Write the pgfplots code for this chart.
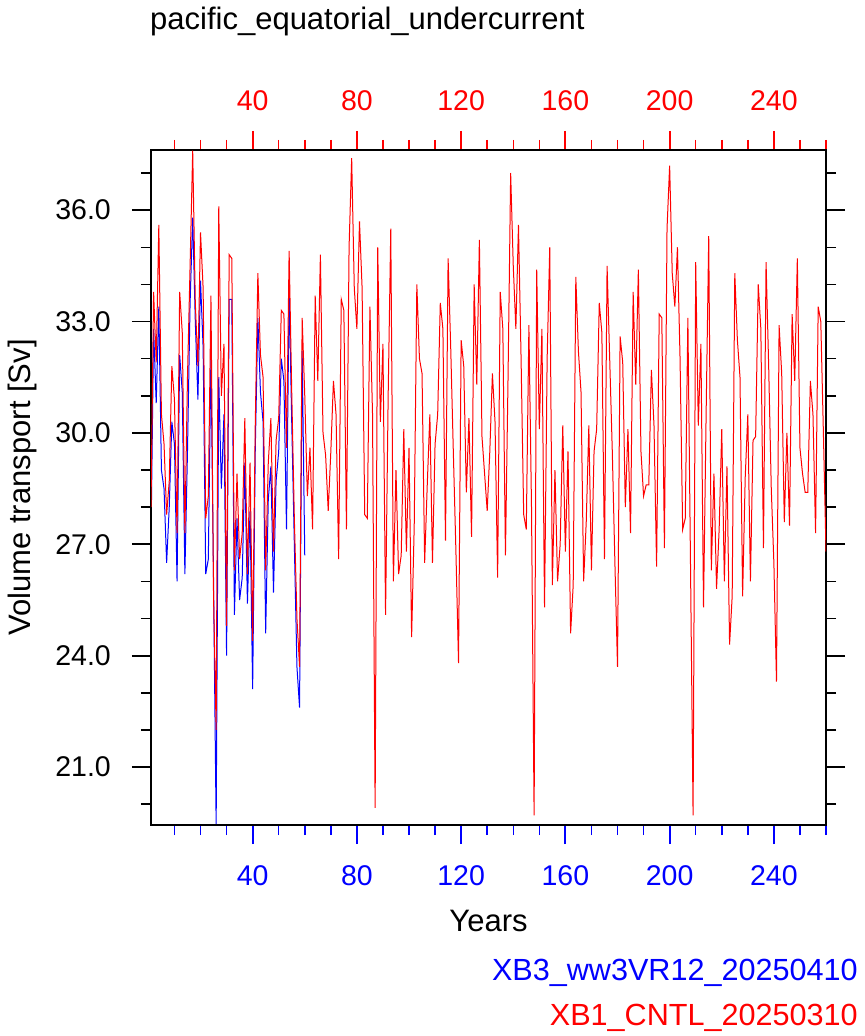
\documentclass[border=0pt]{standalone}
\usepackage{fontspec}
\setmainfont{Liberation Sans}
\usepackage{pgfplots}
\usepackage{pgfplotstable}
\pgfplotsset{compat=1.18}

% Annual volume transport of the Pacific Equatorial Undercurrent [Sv]
\pgfplotstableread{
year vt
1 27.1
2 32.8
3 30.8
4 33.4
5 29.0
6 28.5
7 26.5
8 28.0
9 30.3
10 29.7
11 26.0
12 32.1
13 31.1
14 26.2
15 29.5
16 33.5
17 35.8
18 33.0
19 30.9
20 34.1
21 32.3
22 26.2
23 26.6
24 32.1
25 26.0
26 19.44
27 31.5
28 28.5
29 30.5
30 24.0
31 33.6
32 33.6
33 25.1
34 27.7
35 25.5
36 26.1
37 29.2
38 25.4
39 27.9
40 23.1
41 29.5
42 33.1
43 31.1
44 30.3
45 24.6
46 28.2
47 29.1
48 25.7
49 28.7
50 29.5
51 32.0
52 31.4
53 27.4
54 33.8
55 30.3
56 27.0
57 23.7
58 22.6
59 32.2
60 26.7
}\wwthree

\pgfplotstableread{
year vt
1 28.0
2 33.8
3 31.9
4 35.6
5 30.5
6 29.7
7 27.8
8 28.7
9 31.8
10 30.9
11 27.3
12 33.8
13 32.7
14 27.3
15 31.5
16 34.5
17 37.6
18 33.5
19 31.8
20 35.4
21 33.9
22 27.7
23 28.3
24 33.7
25 25.6
26 22.0
27 36.1
28 31.0
29 32.4
30 24.8
31 34.8
32 34.7
33 26.3
34 28.9
35 26.6
36 27.3
37 30.4
38 26.2
39 29.2
40 24.4
41 30.2
42 34.3
43 32.1
44 31.5
45 26.3
46 29.2
47 30.4
48 26.8
49 29.8
50 30.4
51 33.3
52 33.2
53 29.6
54 34.9
55 31.1
56 27.7
57 25.0
58 23.7
59 33.1
60 31.0
61 28.3
62 29.6
63 27.4
64 33.7
65 31.4
66 34.8
67 30.0
68 29.4
69 27.9
70 29.5
71 31.4
72 30.5
73 26.6
74 33.6
75 33.3
76 27.4
77 35.0
78 37.4
79 33.9
80 32.8
81 35.7
82 33.9
83 27.8
84 27.7
85 33.4
86 30.5
87 19.9
88 35.0
89 30.3
90 32.4
91 25.1
92 31.0
93 35.5
94 26.0
95 29.0
96 26.2
97 26.7
98 30.1
99 26.8
100 29.6
101 24.5
102 27.5
103 34.0
104 32.0
105 31.6
106 26.5
107 28.6
108 30.5
109 26.5
110 29.7
111 30.5
112 33.5
113 32.8
114 27.1
115 34.7
116 32.3
117 29.5
118 26.8
119 23.8
120 32.5
121 31.8
122 28.4
123 30.4
124 27.2
125 34.0
126 31.3
127 35.2
128 29.9
129 28.9
130 27.9
131 29.5
132 31.6
133 30.3
134 26.1
135 33.8
136 32.8
137 26.7
138 31.5
139 37.0
140 34.5
141 32.8
142 35.6
143 32.0
144 27.8
145 27.4
146 32.9
147 28.0
148 19.7
149 34.4
150 30.1
151 32.8
152 25.3
153 32.0
154 35.0
155 25.9
156 29.0
157 26.0
158 27.0
159 30.2
160 26.8
161 29.5
162 24.6
163 25.9
164 34.2
165 32.2
166 31.1
167 26.0
168 27.6
169 30.2
170 26.3
171 29.5
172 30.1
173 33.5
174 32.7
175 26.6
176 34.5
177 32.0
178 29.5
179 26.5
180 23.7
181 32.6
182 31.9
183 28.0
184 30.1
185 27.3
186 33.8
187 31.3
188 34.4
189 29.5
190 28.3
191 28.6
192 28.6
193 31.7
194 30.2
195 26.4
196 33.2
197 33.1
198 26.9
199 35.5
200 37.2
201 34.3
202 33.4
203 35.0
204 32.0
205 27.4
206 27.7
207 33.1
208 26.5
209 19.7
210 34.6
211 30.2
212 32.4
213 25.3
214 30.5
215 35.3
216 26.3
217 28.9
218 25.8
219 27.4
220 30.1
221 26.0
222 29.1
223 24.3
224 25.6
225 34.3
226 32.5
227 31.5
228 25.6
229 28.8
230 30.5
231 26.0
232 29.8
233 29.9
234 34.0
235 32.8
236 26.9
237 34.6
238 31.8
239 28.5
240 26.5
241 23.3
242 32.9
243 31.6
244 27.6
245 30.0
246 27.5
247 33.2
248 31.4
249 34.7
250 29.6
251 28.9
252 28.4
253 28.4
254 31.4
255 30.5
256 27.3
257 33.4
258 33.0
259 30.0
260 26.8
}\cntl

\newcommand\labelfont{\fontsize{31bp}{36bp}\selectfont}
\newcommand\legendfont{\fontsize{30.6bp}{36bp}\selectfont}
\newcommand\tickfont{\fontsize{28.5bp}{33bp}\selectfont}

\pgfplotsset{
  eucframe/.style={
    scale only axis, width=675bp, height=675bp,
    xmin=1, xmax=260, ymin=19.44, ymax=37.62,
    axis line style={line width=2.6bp},
    tick align=outside,
    major tick length=19bp, minor tick length=10bp,
    every major tick/.append style={line width=1.8bp},
    every minor tick/.append style={line width=1.5bp},
    xtick={40,80,...,240}, xticklabels={40,80,120,160,200,240},
    minor xtick={10,20,...,260},
    every tick label/.append style={font=\tickfont},
  }
}

\begin{document}
\begin{tikzpicture}
\path[use as bounding box] (-151bp,-211bp) rectangle (714bp,825bp);

% experiment: bottom axis, left/right axes
\begin{axis}[eucframe,
  xtick pos=bottom, xticklabel pos=bottom,
  x tick style={blue},
  x tick label style={blue, anchor=base, inner sep=0pt, yshift=-41bp},
  ytick={21,24,...,36}, yticklabels={21.0,24.0,27.0,30.0,33.0,36.0},
  minor ytick={20,21,...,37},
  ytick pos=both, yticklabel pos=left,
  y tick style={black},
  y tick label style={anchor=east, inner sep=0pt, xshift=-21bp},
  xlabel={Years}, ylabel={Volume transport [Sv]},
  every axis x label/.style={at={(axis description cs:0.5,-0.1585)}, anchor=base, font=\labelfont},
  every axis y label/.style={at={(axis description cs:-0.1778,0.5)}, rotate=90, anchor=base, font=\labelfont},
]
\addplot[blue, line width=1bp] table[x=year, y=vt] {\wwthree};
\end{axis}

% control: top axis
\begin{axis}[eucframe,
  xtick pos=top, xticklabel pos=top,
  x tick style={red},
  x tick label style={red, anchor=base, inner sep=0pt, yshift=20bp},
  ytick=\empty,
]
\addplot[red, line width=1bp] table[x=year, y=vt] {\cntl};
\end{axis}

\node[anchor=base west, inner sep=0pt, font=\labelfont] at (-1bp,795bp) {pacific\_equatorial\_undercurrent};
\node[anchor=base east, inner sep=0pt, font=\legendfont, text=blue] at (707bp,-155bp) {XB3\_ww3VR12\_20250410};
\node[anchor=base east, inner sep=0pt, font=\legendfont, text=red] at (707bp,-200bp) {XB1\_CNTL\_20250310};
\end{tikzpicture}
\end{document}
